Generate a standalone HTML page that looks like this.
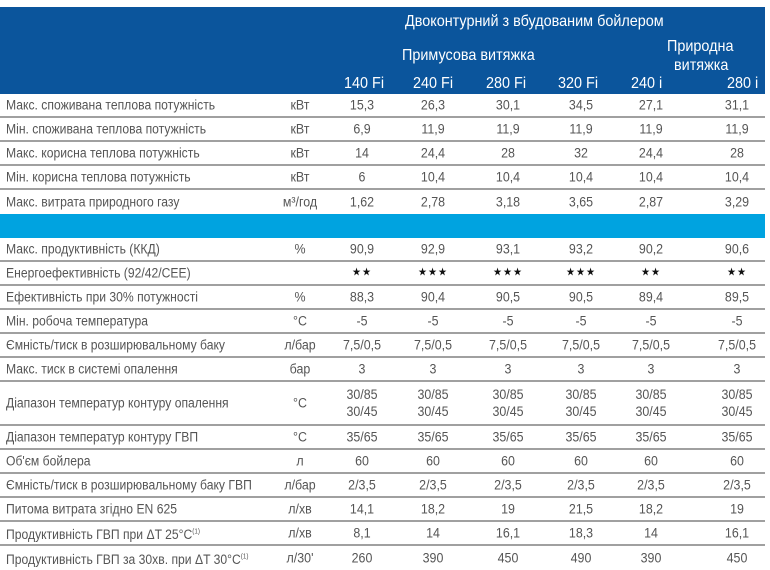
<!DOCTYPE html>
<html><head><meta charset="utf-8"><style>
body{margin:0;width:770px;height:568px;background:#fff;position:relative;overflow:hidden;font-family:"Liberation Sans","DejaVu Sans",sans-serif;color:#555}
.hd{position:absolute;left:0;top:7px;width:765px;height:87px;background:#0b559c}
.w{position:absolute;color:#fff;font-size:16px;white-space:nowrap;transform:scaleX(.9);transform-origin:left}
.band{position:absolute;left:0;top:214px;width:765px;height:24px;background:#00a3e0}
.r{position:absolute;left:0;width:765px;font-size:13.5px;border-bottom:2px solid #a0a0a0;box-sizing:border-box}
.r span{position:absolute;top:50%;transform:translate(-50%,-50%) scaleX(.92);white-space:nowrap;text-align:center;line-height:17px}
.r span.l{left:6px;transform:translate(0,-50%) scaleX(.9);transform-origin:left}
</style></head><body>
<div class="hd"></div>
<div class="w" style="left:405px;top:13px">Двоконтурний з вбудованим бойлером</div>
<div class="w" style="left:402px;top:47px">Примусова витяжка</div>
<div class="w" style="left:667px;top:38px">Природна</div>
<div class="w" style="left:674px;top:57px">витяжка</div>
<div class="w" style="left:344px;top:75px">140 Fi</div>
<div class="w" style="left:413px;top:75px">240 Fi</div>
<div class="w" style="left:486px;top:75px">280 Fi</div>
<div class="w" style="left:558px;top:75px">320 Fi</div>
<div class="w" style="left:631px;top:75px">240 i</div>
<div class="w" style="left:727px;top:75px">280 i</div>
<div class="band"></div>
<div id="t"></div>
<script>
var rows=[
[94,24,"Макс. споживана теплова потужність","кВт","15,3","26,3","30,1","34,5","27,1","31,1"],
[118,24,"Мін. споживана теплова потужність","кВт","6,9","11,9","11,9","11,9","11,9","11,9"],
[142,24,"Макс. корисна теплова потужність","кВт","14","24,4","28","32","24,4","28"],
[166,24,"Мін. корисна теплова потужність","кВт","6","10,4","10,4","10,4","10,4","10,4"],
[190,24,"Макс. витрата природного газу","м³/год","1,62","2,78","3,18","3,65","2,87","3,29",1],
[238,24,"Макс. продуктивність (ККД)","%","90,9","92,9","93,1","93,2","90,2","90,6"],
[262,24,"Енергоефективність (92/42/CEE)","","★★","★★★","★★★","★★★","★★","★★"],
[286,24,"Ефективність при 30% потужності","%","88,3","90,4","90,5","90,5","89,4","89,5"],
[310,24,"Мін. робоча температура","°C","-5","-5","-5","-5","-5","-5"],
[334,24,"Ємність/тиск в розширювальному баку","л/бар","7,5/0,5","7,5/0,5","7,5/0,5","7,5/0,5","7,5/0,5","7,5/0,5"],
[358,24,"Макс. тиск в системі опалення","бар","3","3","3","3","3","3"],
[382,44,"Діапазон температур контуру опалення","°C","30/85<br>30/45","30/85<br>30/45","30/85<br>30/45","30/85<br>30/45","30/85<br>30/45","30/85<br>30/45"],
[426,24,"Діапазон температур контуру ГВП","°C","35/65","35/65","35/65","35/65","35/65","35/65"],
[450,24,"Об'єм бойлера","л","60","60","60","60","60","60"],
[474,24,"Ємність/тиск в розширювальному баку ГВП","л/бар","2/3,5","2/3,5","2/3,5","2/3,5","2/3,5","2/3,5"],
[498,24,"Питома витрата згідно EN 625","л/хв","14,1","18,2","19","21,5","18,2","19"],
[522,24,"Продуктивність ГВП при ΔT 25°C<sup style='font-size:7px'>(1)</sup>","л/хв","8,1","14","16,1","18,3","14","16,1"],
[546,24,"Продуктивність ГВП за 30хв. при ΔT 30°C<sup style='font-size:7px'>(1)</sup>","л/30'","260","390","450","490","390","450",1]
];
var xs=[300,362,433,508,581,651,737],h="";
rows.forEach(function(r){
 h+='<div class="r" style="top:'+r[0]+'px;height:'+r[1]+'px;'+(r[10]?'border-bottom:none':'')+'"><span class="l">'+r[2]+'</span>';
 for(var i=0;i<7;i++){var v=r[3+i];h+='<span style="left:'+xs[i]+'px;'+(v.indexOf('★')>=0?'color:#111;font-size:11px;letter-spacing:1px':'')+'">'+v+'</span>';}
 h+='</div>';
});
document.getElementById('t').innerHTML=h;
</script>
</body></html>
